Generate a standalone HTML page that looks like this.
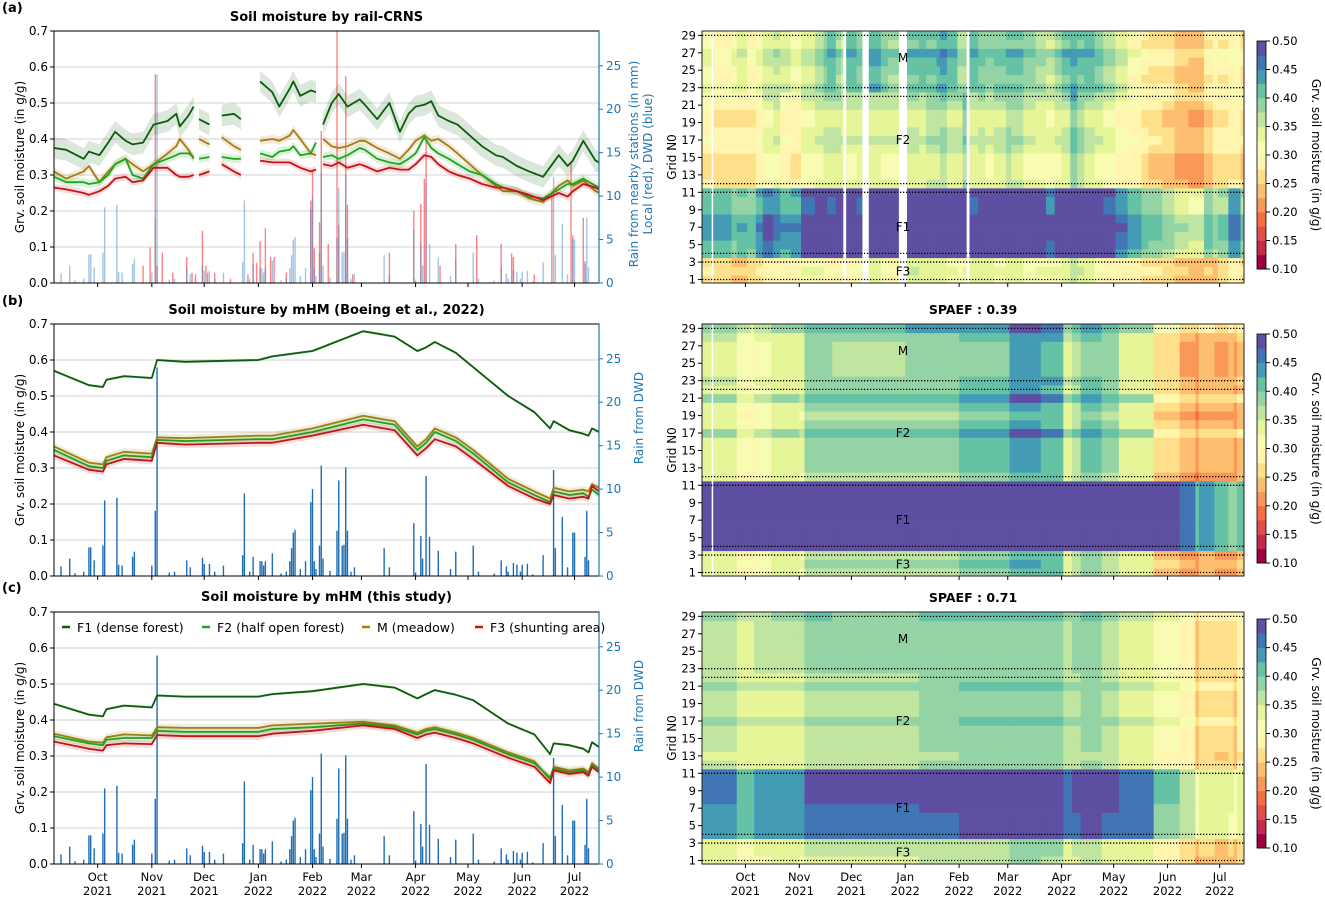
<!DOCTYPE html>
<html><head><meta charset="utf-8"><title>Soil moisture figure</title>
<style>
html,body{margin:0;padding:0;background:#fff;}
svg{display:block;font-family:"DejaVu Sans","Liberation Sans",sans-serif;}
</style></head>
<body>
<svg id="fig" xmlns="http://www.w3.org/2000/svg" width="1325" height="904" viewBox="0 0 1325 904"></svg>
<script>
// ---------------- DATA ----------------
const monthTicks = [0,31,61,92,123,151,182,212,243,273];
const monthNames = ["Oct","Nov","Dec","Jan","Feb","Mar","Apr","May","Jun","Jul"];
const monthYears = ["2021","2021","2021","2022","2022","2022","2022","2022","2022","2022"];
const yTicks = [0,0.1,0.2,0.3,0.4,0.5,0.6,0.7];
const rainTicks = [0,5,10,15,20,25];
const gridTicks = [1,3,5,7,9,11,13,15,17,19,21,23,25,27,29];
const cbTicks = [0.10,0.15,0.20,0.25,0.30,0.35,0.40,0.45,0.50];
const dottedRows = [29,23,22,12,11,4,3,1];

// panel (a) rail-CRNS
const daysA = [-25,-18,-8,-5,1,6,10,16,20,26,32,40,45,47,52,55,56,58,64,67,71,78,82,88,93,100,104,110,112,116,122,125,127,129,134,138,143,150,153,160,167,173,178,182,187,191,195,201,206,213,220,228,232,240,247,255,264,269,272,278,285,287];
const f1A = [.375,.37,.345,.365,.355,.39,.42,.395,.385,.39,.44,.45,.47,.435,.465,.49,null,.455,.44,null,.465,.47,.455,null,.56,.53,.49,.54,.56,.52,.535,.53,null,.44,.5,.525,.49,.51,.495,.455,.5,.42,.47,.49,.495,.505,.465,.45,.44,.41,.38,.355,.35,.325,.31,.295,.355,.325,.34,.395,.34,.335];
const mA  = [.31,.29,.31,.325,.28,.31,.33,.345,.33,.31,.33,.36,.38,.40,.37,.345,null,.40,.385,null,.405,.38,.37,null,.395,.40,.395,.41,.425,.40,.36,.355,null,.40,.38,.375,.38,.395,.395,.375,.36,.345,.37,.395,.41,.395,.40,.38,.36,.33,.30,.27,.255,.255,.235,.225,.27,.285,.27,.285,.255,.25];
const f2A = [.295,.28,.28,.275,.28,.30,.33,.345,.30,.29,.33,.345,.355,.36,.36,.35,null,.345,.35,null,.35,.345,.345,null,.36,.35,.365,.37,.38,.355,.36,.39,null,.35,.355,.345,.355,.375,.37,.345,.335,.33,.345,.36,.405,.375,.36,.345,.33,.31,.30,.275,.265,.255,.24,.235,.26,.275,.275,.29,.27,.265];
const f3A = [.265,.26,.25,.245,.255,.27,.29,.295,.28,.285,.32,.32,.30,.295,.295,.30,null,.30,.31,null,.33,.31,.30,null,.34,.335,.335,.335,.33,.32,.31,.315,null,.33,.325,.335,.32,.33,.325,.31,.32,.315,.315,.33,.355,.35,.33,.31,.30,.29,.275,.265,.265,.255,.245,.23,.25,.24,.255,.275,.265,.26];

// panels (b) and (c) mHM
const daysBC = [-25,-5,3,5,15,31,34,50,92,100,123,152,170,183,188,193,205,215,235,250,259,261,270,278,281,283,287];
const f1B = [.57,.53,.525,.545,.555,.55,.60,.595,.60,.61,.625,.68,.665,.625,.635,.65,.62,.58,.50,.455,.41,.43,.405,.395,.39,.41,.40];
const mB  = [.36,.315,.31,.33,.345,.34,.385,.383,.39,.39,.41,.445,.43,.36,.38,.41,.385,.35,.27,.235,.215,.245,.235,.24,.235,.255,.245];
const f2B = [.35,.305,.3,.32,.335,.33,.378,.375,.38,.38,.40,.435,.42,.35,.37,.40,.375,.34,.26,.225,.205,.235,.225,.23,.22,.24,.225];
const f3B = [.335,.295,.29,.31,.325,.32,.37,.365,.37,.37,.39,.42,.405,.335,.355,.38,.36,.325,.25,.215,.2,.225,.215,.22,.215,.25,.235];
const f1C = [.445,.415,.41,.43,.44,.435,.468,.465,.465,.472,.48,.50,.49,.46,.472,.483,.47,.455,.39,.36,.305,.335,.33,.32,.31,.338,.325];
const mC  = [.362,.34,.337,.352,.36,.357,.38,.378,.378,.385,.39,.395,.385,.365,.375,.38,.365,.35,.31,.285,.235,.27,.26,.265,.255,.28,.265];
const f2C = [.355,.335,.33,.345,.35,.35,.37,.367,.367,.375,.38,.39,.38,.36,.37,.375,.36,.345,.305,.28,.24,.265,.255,.26,.25,.275,.26];
const f3C = [.34,.32,.315,.33,.335,.333,.358,.355,.355,.362,.37,.385,.375,.35,.36,.365,.35,.335,.295,.27,.225,.26,.25,.255,.245,.27,.255];

// rain
const dwdDays = [-21,-16,-13,-8,-5,-4,-2,3,4,11,12,14,20,21,31,33,34,41,44,51,53,60,61,64,67,72,83,84,87,89,93,94,95,96,100,105,108,110,111,112,113,116,119,122,123,124,125,127,128,129,133,137,138,140,141,142,143,145,147,164,167,181,182,185,186,188,190,195,202,205,215,218,227,231,234,235,238,240,242,243,246,249,255,261,262,266,269,272,273,279,280,281];
const dwdMM = [1.1,2,0.3,0.5,3.3,3.3,1.8,3.5,8.7,9,1.3,1.2,2.2,2.8,1.2,7.5,24,0.4,0.5,1.8,1,2.1,1.4,1.4,0.5,1.2,2.4,9.5,0.5,2.2,1.7,1.7,1.2,1.7,2.6,0.3,0.5,1.7,3.2,5,5.3,0.8,1.7,8.5,10,1.7,0.8,3.5,12.7,2,0.6,5.2,11,3.5,3.6,12.5,5.2,0.5,1,3.2,1,6.1,0.4,4.6,2,11.5,4.5,2.9,0.8,2.8,3.5,0.5,0.3,1.8,1.1,0.5,1.5,1.3,0.5,1.3,1.4,0.2,2.4,12.2,3.2,6.8,1,5,5,2.2,7.5,1.8];
const localDays = [26,30,33,34,37,43,51,54,56,60,62,63,67,76,86,89,91,93,96,99,101,108,122,123,124,127,128,132,137,138,142,143,146,167,181,185,187,188,196,205,217,231,237,238,250,260,271,272,278,279];
const localMM = [2,4.1,24,2,3.5,1.2,3,1.2,1,6,2,1.2,1.2,0.5,1,3.5,2.3,4.8,6.3,3,3,1.2,9.5,13,4,7,17.5,4.5,29,6.7,23.8,9,1,3.5,8.3,9.1,12,16.5,2,4.5,5.5,4.5,3.4,3,1,10.5,13.8,5.5,7.5,2.5];

// per-row heatmap offsets (rows 1..29)
const rowOffA = [0,.01,0, .04,.05,.06,.07,.06,.03,.03,.04, -.01,-.02,-.02,-.02,0,.01,0,-.01,-.01,.01,.02, .02,0,.01,.02,.03,0,.01];
const rowOffB = [0,.01,0, 0,0,0,0,0,0,0,0, -.01,0,0,0,0,.04,0,-.01,0,.04,0, 0,-.01,-.01,-.01,-.01,0,.04];
const rowOffC = [-.01,0,0, 0,0,0,.005,.01,.01,.01,.01, 0,-.005,0,0,0,.02,0,0,0,.02,0, 0,0,0,0,0,0,.02];

// ---------------- LAYOUT ----------------
const NS = "http://www.w3.org/2000/svg";
const svg = document.getElementById('fig');
const D0 = -25, D1 = 287;
const LX0 = 54, LX1 = 599, HX0 = 702, HX1 = 1244;
const PAN = [{t:31,b:283},{t:324,b:576},{t:612,b:864}];
const CB = [{t:41,b:269},{t:334,b:563},{t:619,b:848}];
const COL = {f1:"#0b5d0b", f2:"#1ea61e", m:"#a87c10", f3:"#c41414"};
function lx(d){return LX0+(d-D0)*(LX1-LX0)/(D1-D0);}
function hx(d){return HX0+(d-D0)*(HX1-HX0)/(D1-D0);}
function ly(v,p){return p.b-(v/0.7)*(p.b-p.t);}
function ry(mm,p){return p.b-(mm/29)*(p.b-p.t);}
function hy(g,p){return p.b-(g-0.6)*(p.b-p.t)/28.9;}
function el(tag, attrs, parent){
  const e=document.createElementNS(NS,tag);
  for(const k in attrs) e.setAttribute(k,attrs[k]);
  (parent||svg).appendChild(e); return e;
}
function txt(s, attrs, parent){ const e=el('text',attrs,parent); e.textContent=s; return e; }

// Spectral colormap, 16 discrete levels on [0.1, 0.5]
const SPEC = ["#9e0142","#d53e4f","#f46d43","#fdae61","#fee08b","#ffffbf","#e6f598","#abdda4","#66c2a5","#3288bd","#5e4fa2"];
function hex2rgb(h){return [parseInt(h.substr(1,2),16),parseInt(h.substr(3,2),16),parseInt(h.substr(5,2),16)];}
function spec(t){
  const f=t*(SPEC.length-1), i=Math.min(SPEC.length-2,Math.floor(f)), r=f-i;
  const a=hex2rgb(SPEC[i]), b=hex2rgb(SPEC[i+1]);
  return "rgb("+a.map((x,k)=>Math.round(x+(b[k]-x)*r)).join(",")+")";
}
function cmap(v){
  let idx=Math.floor((v-0.1)/0.025); idx=Math.max(0,Math.min(15,idx));
  return spec(idx/15);
}

const defs = el('defs',{});
PAN.forEach((p,i)=>{
  const c1=el('clipPath',{id:'clipL'+i},defs);
  el('rect',{x:LX0,y:p.t,width:LX1-LX0,height:p.b-p.t},c1);
  const c2=el('clipPath',{id:'clipH'+i},defs);
  el('rect',{x:HX0,y:p.t,width:HX1-HX0,height:p.b-p.t},c2);
});

const panelsLine = [
  {days:daysA, s:{f1:f1A,f2:f2A,m:mA,f3:f3A}, title:"Soil moisture by rail-CRNS", tag:"(a)", local:true, band:{f1:.03,f2:.012,m:.012,f3:.01}},
  {days:daysBC, s:{f1:f1B,f2:f2B,m:mB,f3:f3B}, title:"Soil moisture by mHM (Boeing et al., 2022)", tag:"(b)", local:false, band:{f1:.004,f2:.01,m:.01,f3:.01}},
  {days:daysBC, s:{f1:f1C,f2:f2C,m:mC,f3:f3C}, title:"Soil moisture by mHM (this study)", tag:"(c)", local:false, band:{f1:.004,f2:.01,m:.01,f3:.01}}
];
const rowOffs=[rowOffA,rowOffB,rowOffC];
const tagY=[12,305,592], titleY=[21,314,601];

function zoneOf(g){ if(g<=3) return 'f3'; if(g<=11) return 'f1'; if(g<=22) return 'f2'; return 'm'; }

panelsLine.forEach((P,pi)=>{
  const p=PAN[pi];
  const g=el('g',{});
  
  

  const tg=txt(P.tag,{x:2,y:tagY[pi],'font-size':13,'font-weight':'bold'},g);
  
  
  const tt=txt(P.title,{x:(LX0+LX1)/2,y:titleY[pi],'font-size':13,'font-weight':'bold','text-anchor':'middle'},g);
  
  

  yTicks.forEach(v=>{
    if(v===0) return;
    const gl=el('line',{x1:LX0,x2:LX1,y1:ly(v,p),y2:ly(v,p),stroke:'#dcdcdc','stroke-width':1.2},g);
    
    
  });

  const cg=el('g',{'clip-path':'url(#clipL'+pi+')'},g);
  const bw=1.4;
  if(P.local){
    localDays.forEach((d,i)=>{
      const b=el('rect',{x:lx(d)-bw/2,y:ry(localMM[i],p),width:bw,height:p.b-ry(localMM[i],p),fill:'#ff3030','fill-opacity':0.6},cg);
      
      
    });
  }
  dwdDays.forEach((d,i)=>{
    const b=el('rect',{x:lx(d)-bw/2,y:ry(dwdMM[i],p),width:bw,height:p.b-ry(dwdMM[i],p),fill:P.local?'#4a8cc8':'#1f6cb4','fill-opacity':P.local?0.5:1},cg);
    
    
  });

  ['f1','m','f2','f3'].forEach(k=>{
    const vals=P.s[k], w=P.band[k];
    let segs=[], cur=[];
    P.days.forEach((d,i)=>{ if(vals[i]===null){ if(cur.length) segs.push(cur); cur=[]; } else cur.push([d,vals[i]]); });
    if(cur.length) segs.push(cur);
    segs.forEach(sg=>{
      const up=sg.map(q=>lx(q[0]).toFixed(1)+","+ly(q[1]+w,p).toFixed(1));
      const dn=sg.slice().reverse().map(q=>lx(q[0]).toFixed(1)+","+ly(q[1]-w,p).toFixed(1));
      const band=el('polygon',{points:up.concat(dn).join(" "),fill:COL[k],'fill-opacity':0.15},cg);
      
      
    });
    segs.forEach(sg=>{
      const pts=sg.map(q=>lx(q[0]).toFixed(1)+","+ly(q[1],p).toFixed(1)).join(" ");
      const ln=el('polyline',{points:pts,fill:'none',stroke:COL[k],'stroke-width':1.8,'stroke-linejoin':'round'},cg);
      
      
    });
  });

  const box=el('rect',{x:LX0,y:p.t,width:LX1-LX0,height:p.b-p.t,fill:'none',stroke:'#000','stroke-width':1},g);
  
  
  const rs=el('line',{x1:LX1,x2:LX1,y1:p.t,y2:p.b,stroke:'#1f77b4','stroke-width':1.2},g);
  
  

  yTicks.forEach(v=>{
    const t=el('line',{x1:LX0-4,x2:LX0,y1:ly(v,p),y2:ly(v,p),stroke:'#000'},g);
    
    
    const l=txt(v.toFixed(1),{x:LX0-6,y:ly(v,p)+4,'font-size':12,'text-anchor':'end'},g);
    
    
  });
  rainTicks.forEach(v=>{
    const t=el('line',{x1:LX1,x2:LX1+4,y1:ry(v,p),y2:ry(v,p),stroke:'#1f77b4'},g);
    
    
    const l=txt(String(v),{x:LX1+7,y:ry(v,p)+4,'font-size':12,fill:'#1f77b4'},g);
    
    
  });
  monthTicks.forEach((d,i)=>{
    const t=el('line',{x1:lx(d),x2:lx(d),y1:p.b,y2:p.b+4,stroke:'#000'},g);
    
    
    if(pi===2){
      const l1=txt(monthNames[i],{x:lx(d),y:p.b+17,'font-size':11.5,'text-anchor':'middle'},g);
      
      
      const l2=txt(monthYears[i],{x:lx(d),y:p.b+31,'font-size':11.5,'text-anchor':'middle'},g);
      
      
    }
  });
  const cy=(p.t+p.b)/2;
  const yl=txt("Grv. soil moisture (in g/g)",{x:0,y:0,'font-size':12,'text-anchor':'middle',transform:'translate(24,'+cy+') rotate(-90)'},g);
  
  
  if(pi===0){
    const r1=txt("Rain from nearby stations (in mm)",{x:0,y:0,'font-size':12,fill:'#1f77b4','text-anchor':'middle',transform:'translate(638,'+(cy+7)+') rotate(-90)'},g);
    
    
    const r2=txt("Local (red), DWD (blue)",{x:0,y:0,'font-size':12,fill:'#1f77b4','text-anchor':'middle',transform:'translate(652,'+(cy+7)+') rotate(-90)'},g);
    
    
  } else {
    const r1=txt("Rain from DWD",{x:0,y:0,'font-size':12,fill:'#1f77b4','text-anchor':'middle',transform:'translate(643,'+(cy-32)+') rotate(-90)'},g);
    
    
  }
});

const legItems=[["f1","F1 (dense forest)",62],["f2","F2 (half open forest)",202],["m","M (meadow)",362],["f3","F3 (shunting area)",475]];
legItems.forEach(it=>{
  const lg=el('g',{});
  
  
  el('line',{x1:it[2],x2:it[2]+8,y1:627,y2:627,stroke:COL[it[0]],'stroke-width':2.5},lg);
  txt(it[1],{x:it[2]+15,y:632,'font-size':12.5},lg);
});

// ---------------- HEATMAPS ----------------
const spaef=["", "SPAEF : 0.39", "SPAEF : 0.71"];
const zoneLabels=[["M",26.4],["F2",17],["F1",7],["F3",1.9]];
panelsLine.forEach((P,pi)=>{
  const p=PAN[pi], off=rowOffs[pi];
  const g=el('g',{});
  
  
  const cg=el('g',{'clip-path':'url(#clipH'+pi+')'},g);
  el('rect',{x:HX0,y:p.t,width:HX1-HX0,height:p.b-p.t,fill:'#fff'},cg);
  for(let gr=1; gr<=29; gr++){
    const z=zoneOf(gr), vals=P.s[z];
    for(let i=0;i<P.days.length;i++){
      if(vals[i]===null) continue;
      const dEnd = i<P.days.length-1 ? P.days[i+1] : D1;
      const x0=hx(P.days[i]), x1=hx(dEnd);
      const c=el('rect',{x:x0.toFixed(2),y:hy(gr+0.5,p).toFixed(2),width:(x1-x0+0.6).toFixed(2),height:(hy(gr-0.5,p)-hy(gr+0.5,p)+0.4).toFixed(2),fill:cmap(vals[i]+off[gr-1])},cg);
      
      
    }
  }
  if(pi<2){
    const wl=el('line',{x1:hx(-19),x2:hx(-19),y1:p.t,y2:p.b,stroke:'#fff','stroke-width':1.5},cg);
    
    
  }
  dottedRows.forEach(r=>{
    const dl=el('line',{x1:HX0,x2:HX1,y1:hy(r,p),y2:hy(r,p),stroke:'#000','stroke-width':1.3,'stroke-dasharray':'1.3,1.7'},cg);
    
    
  });
  zoneLabels.forEach(z=>{
    const zl=txt(z[0],{x:903,y:hy(z[1],p)+4,'font-size':12,'text-anchor':'middle'},g);
    
    
  });
  const fr=el('rect',{x:HX0,y:p.t,width:HX1-HX0,height:p.b-p.t,fill:'none',stroke:'#222','stroke-width':1},g);
  
  
  if(spaef[pi]){
    const st=txt(spaef[pi],{x:(HX0+HX1)/2,y:p.t-10,'font-size':12.5,'font-weight':'bold','text-anchor':'middle'},g);
    
    
  }
  gridTicks.forEach(r=>{
    const t=el('line',{x1:HX0-4,x2:HX0,y1:hy(r,p),y2:hy(r,p),stroke:'#000'},g);
    
    
    const l=txt(String(r),{x:HX0-6,y:hy(r,p)+4,'font-size':11.5,'text-anchor':'end'},g);
    
    
  });
  monthTicks.forEach((d,i)=>{
    const t=el('line',{x1:hx(d),x2:hx(d),y1:p.b,y2:p.b+4,stroke:'#000'},g);
    
    
    if(pi===2){
      const l1=txt(monthNames[i],{x:hx(d),y:p.b+17,'font-size':11.5,'text-anchor':'middle'},g);
      
      
      const l2=txt(monthYears[i],{x:hx(d),y:p.b+31,'font-size':11.5,'text-anchor':'middle'},g);
      
      
    }
  });
  const gl=txt("Grid N0",{x:0,y:0,'font-size':12,'text-anchor':'middle',transform:'translate(676,'+((p.t+p.b)/2)+') rotate(-90)'},g);
  
  

  const c=CB[pi];
  const cbg=el('g',{},g);
  
  
  const h=(c.b-c.t)/16;
  for(let k=0;k<16;k++){
    el('rect',{x:1257,y:(c.b-(k+1)*h).toFixed(2),width:9,height:(h+0.4).toFixed(2),fill:spec(k/15)},cbg);
  }
  el('rect',{x:1257,y:c.t,width:9,height:c.b-c.t,fill:'none',stroke:'#000','stroke-width':0.8},cbg);
  cbTicks.forEach(v=>{
    const yy=c.b-(v-0.1)/0.4*(c.b-c.t);
    el('line',{x1:1266,x2:1270,y1:yy,y2:yy,stroke:'#000'},cbg);
    const l=txt(v.toFixed(2),{x:1272,y:yy+4,'font-size':11.5},cbg);
    
    
  });
  const cl=txt("Grv. soil moisture (in g/g)",{x:0,y:0,'font-size':12,'text-anchor':'middle',transform:'translate(1312,'+((c.t+c.b)/2)+') rotate(90)'},g);
  
  
});
</script>
</body></html>
